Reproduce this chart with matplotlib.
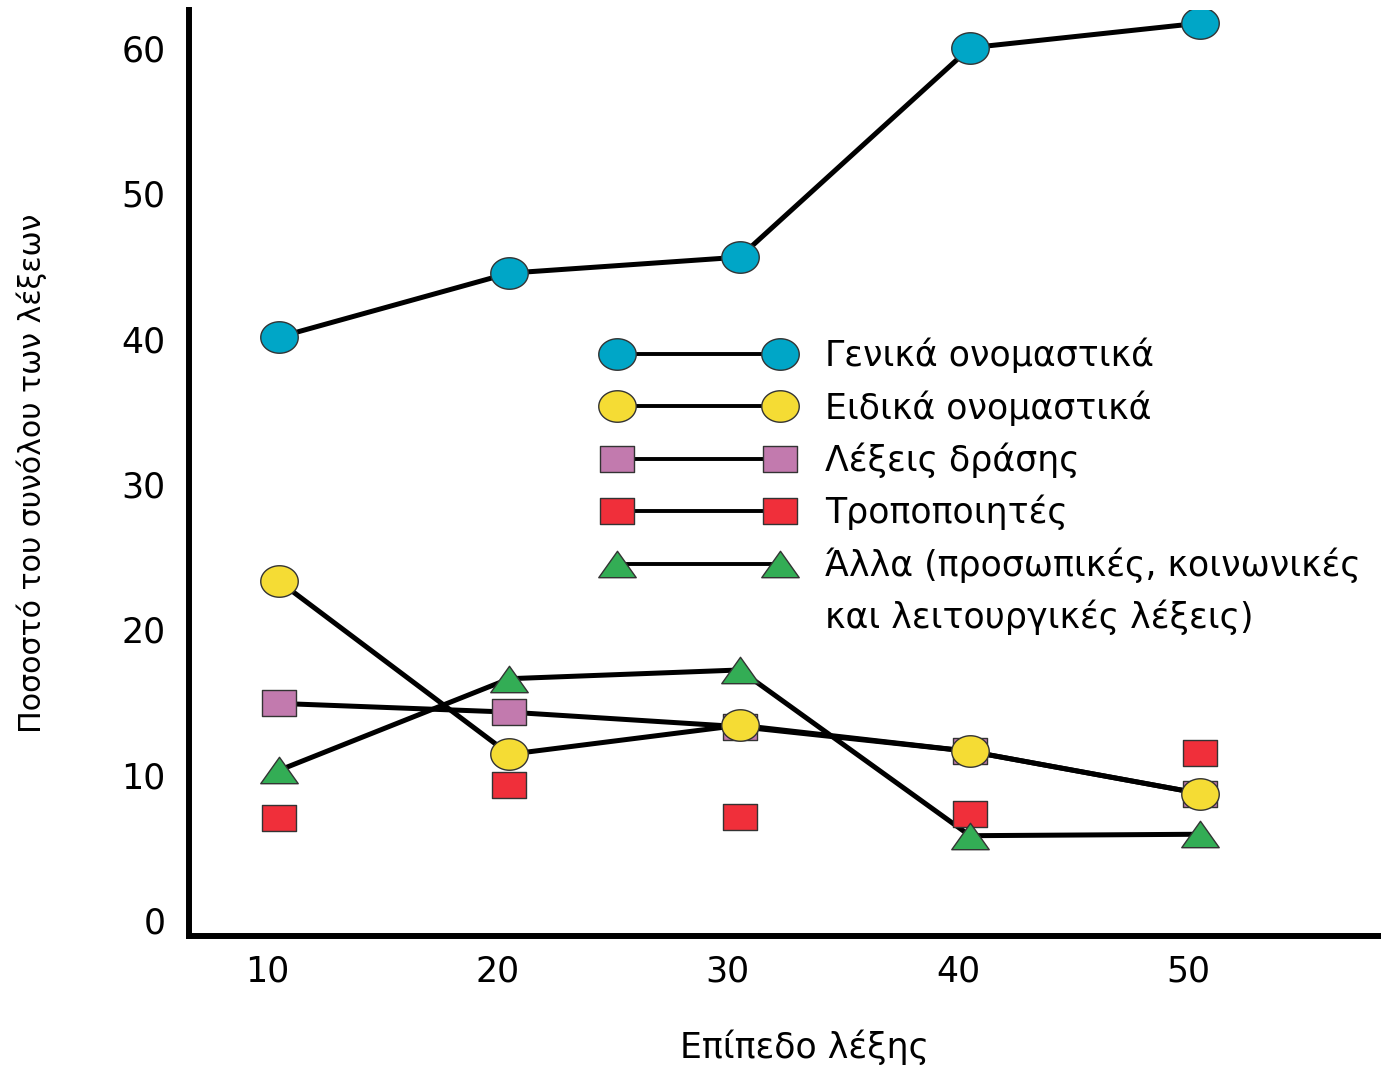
import numpy as np
import matplotlib
matplotlib.use("Agg")
import matplotlib.pyplot as plt
from matplotlib.path import Path
from matplotlib.lines import Line2D
import matplotlib.transforms as mtransforms

# ---------------- data ----------------
levels = [10, 20, 30, 40, 50]
xtick_labels = ["10", "20", "30", "40", "50"]
yticks = [0, 10, 20, 30, 40, 50, 60]

general_nouns = [40.1, 44.5, 45.6, 60.0, 61.7]
specific_nouns = [23.3, 11.4, 13.4, 11.6, 8.7]
action_words = [14.9, 14.3, 13.3, 11.6, 8.7]
modifiers = [7.0, 9.3, 7.1, 7.3, 11.5]
other_words = [10.3, 16.6, 17.2, 5.8, 5.9]

labels = ["Γενικά ονομαστικά", "Ειδικά ονομαστικά", "Λέξεις δράσης",
          "Τροποποιητές", "Άλλα (προσωπικές, κοινωνικές",
          "και λειτουργικές λέξεις)"]
xlabel = "Επίπεδο λέξης"
ylabel = "Ποσοστό του συνόλου των λέξεων"

# ---------------- style ----------------
FONT = ["DejaVu Sans"]
FS = 25        # horizontal texts
FS_Y = 21.6    # rotated y label
plt.rcParams["font.family"] = FONT

c_blue = "#00a6c7"
c_yellow = "#f5dc34"
c_purple = "#c27aae"
c_red = "#f02f3a"
c_green = "#33ad55"
edge = "#333333"

# custom (horizontally stretched) markers
t = np.linspace(0, 2 * np.pi, 64)
ellipse = Path(np.column_stack([1.19 * np.cos(t), np.sin(t)]), closed=True)
rect = Path([(-1.26, -1), (1.26, -1), (1.26, 1), (-1.26, 1), (-1.26, -1)], closed=True)
tri = Path([(-0.71, -0.5), (0.71, -0.5), (0, 0.5), (-0.71, -0.5)], closed=True)

W, H, DPI = 1381, 1067, 100
fig = plt.figure(figsize=(W / DPI, H / DPI), dpi=DPI)
ax = fig.add_axes([189 / W, 1 - 936 / H, (1380 - 189) / W, (936 - 10) / H])

ax.set_xlim(6.09, 57.8)
ax.set_ylim(-1.1, 62.6)

LW = 3.6
# lines
ax.plot(levels, general_nouns, color="black", lw=LW, zorder=2)
ax.plot(levels, specific_nouns, color="black", lw=LW, zorder=2)
ax.plot(levels, action_words, color="black", lw=LW, zorder=2)
ax.plot(levels, other_words, color="black", lw=LW, zorder=2)

# markers
ms_e, ms_r, ms_t = 27, 24, 27
ax.plot(levels, modifiers, ls="none", marker=rect, ms=ms_r, mfc=c_red, mec=edge, mew=1, zorder=3)
ax.plot(levels, action_words, ls="none", marker=rect, ms=ms_r, mfc=c_purple, mec=edge, mew=1, zorder=3)
ax.plot(levels, specific_nouns, ls="none", marker=ellipse, ms=ms_e, mfc=c_yellow, mec=edge, mew=1, zorder=4)
ax.plot(levels, general_nouns, ls="none", marker=ellipse, ms=ms_e, mfc=c_blue, mec=edge, mew=1, zorder=4)
ax.plot(levels, other_words, ls="none", marker=tri, ms=ms_t, mfc=c_green, mec=edge, mew=1, zorder=5)

# axes styling
for s in ["top", "right"]:
    ax.spines[s].set_visible(False)
for s in ["left", "bottom"]:
    ax.spines[s].set_linewidth(4.3)
    ax.spines[s].set_capstyle("projecting")
ax.set_xticks(levels)
ax.set_xticklabels(xtick_labels, fontsize=FS)
ax.set_yticks(yticks)
ax.set_yticklabels([str(v) for v in yticks], fontsize=FS)
ax.tick_params(axis="both", length=0)
ax.tick_params(axis="y", pad=17)
ax.tick_params(axis="x", pad=13)
# shift x tick labels slightly left
off = mtransforms.ScaledTranslation(-12 / DPI, 0, fig.dpi_scale_trans)
for lab in ax.get_xticklabels():
    lab.set_transform(lab.get_transform() + off)

fig.text(805 / W, 1 - 1047 / H, xlabel, fontsize=FS, ha="center", va="center")
fig.text(32 / W, 1 - 473 / H, ylabel, fontsize=FS_Y, ha="center", va="center", rotation=90)

# legend
lw_leg = 2.8
handles = [
    Line2D([], [], color="black", lw=lw_leg, marker=ellipse, ms=ms_e, mfc=c_blue, mec=edge, mew=1),
    Line2D([], [], color="black", lw=lw_leg, marker=ellipse, ms=ms_e, mfc=c_yellow, mec=edge, mew=1),
    Line2D([], [], color="black", lw=lw_leg, marker=rect, ms=ms_r, mfc=c_purple, mec=edge, mew=1),
    Line2D([], [], color="black", lw=lw_leg, marker=rect, ms=ms_r, mfc=c_red, mec=edge, mew=1),
    Line2D([], [], color="black", lw=lw_leg, marker=tri, ms=ms_t, mfc=c_green, mec=edge, mew=1),
    Line2D([], [], ls="none", marker="none"),
]
fs_px = FS * DPI / 72
hl = 163 / fs_px + 0.6
left_px = 617 - 0.3 * fs_px
htp = (825 - (left_px + hl * fs_px)) / fs_px
leg = ax.legend(handles, labels, numpoints=2, handlelength=hl, handletextpad=htp,
                loc="center left", bbox_to_anchor=(left_px / W, 1 - 486.5 / H),
                bbox_transform=fig.transFigure, frameon=False, borderpad=0,
                borderaxespad=0, labelspacing=0.488, fontsize=FS)

fig.savefig("out.png", dpi=DPI)
